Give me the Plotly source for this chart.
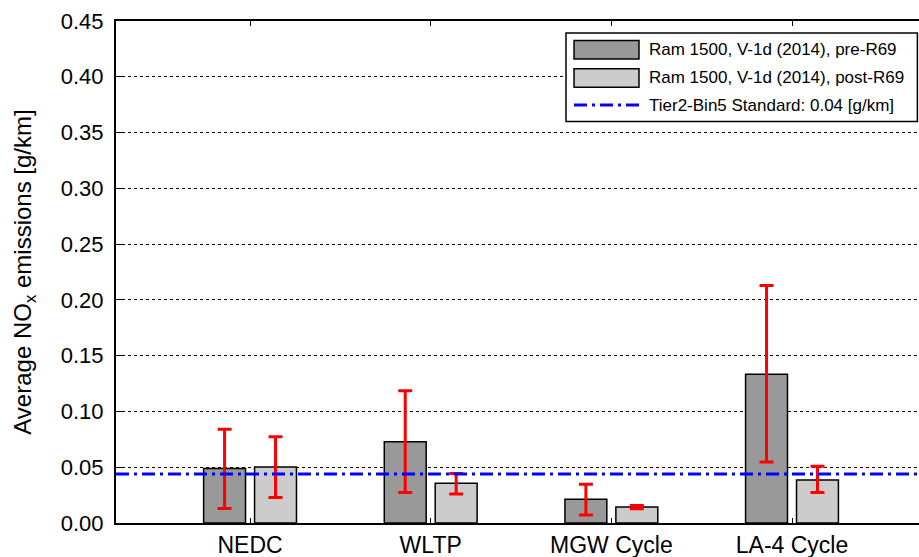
import plotly.graph_objects as go

# Drive cycles on the x axis
cycles = ["NEDC", "WLTP", "MGW Cycle", "LA-4 Cycle"]

# Average NOx [g/km] before the R69 recall fix, with min/max range
pre_mean = [0.0488, 0.0729, 0.0214, 0.1334]
pre_low = [0.0130, 0.0273, 0.0071, 0.0547]
pre_high = [0.0840, 0.1185, 0.0348, 0.2130]

# Average NOx [g/km] after the R69 recall fix, with min/max range
post_mean = [0.0503, 0.0356, 0.0143, 0.0386]
post_low = [0.0229, 0.0259, 0.0127, 0.0273]
post_high = [0.0773, 0.0444, 0.0157, 0.0508]

# Tier2-Bin5 limit (0.07 g/mi expressed in g/km)
standard = 0.044

series_names = [
    "Ram 1500, V-1d (2014), pre-R69",
    "Ram 1500, V-1d (2014), post-R69",
    "Tier2-Bin5 Standard: 0.04 [g/km]",
]

y_ticks = [0.00, 0.05, 0.10, 0.15, 0.20, 0.25, 0.30, 0.35, 0.40, 0.45]

FONT = "Liberation Sans, Arial, Helvetica, sans-serif"
PRE_COLOR = "#999999"
POST_COLOR = "#cccccc"
ERR_COLOR = "#ff0000"
STD_COLOR = "#0000ff"
STD_DASH = "13px,5px,3px,5px"

xpos = list(range(1, len(cycles) + 1))
bar_w = 0.232


def err(mean, low, high):
    return dict(
        type="data",
        symmetric=False,
        array=[h - m for m, h in zip(mean, high)],
        arrayminus=[m - l for m, l in zip(mean, low)],
        color=ERR_COLOR,
        thickness=3,
        width=7,
    )


fig = go.Figure()
fig.add_trace(go.Bar(
    x=xpos, y=pre_mean, name=series_names[0],
    width=bar_w, offset=-0.025 - bar_w,
    marker=dict(color=PRE_COLOR, line=dict(color="black", width=1.5)),
    error_y=err(pre_mean, pre_low, pre_high),
    showlegend=False,
))
fig.add_trace(go.Bar(
    x=xpos, y=post_mean, name=series_names[1],
    width=bar_w, offset=0.025,
    marker=dict(color=POST_COLOR, line=dict(color="black", width=1.5)),
    error_y=err(post_mean, post_low, post_high),
    showlegend=False,
))

# Standard limit line across the full width
fig.add_shape(type="line", xref="paper", yref="y", x0=0, x1=1,
              y0=standard, y1=standard, layer="above",
              line=dict(color=STD_COLOR, width=3, dash=STD_DASH))

# Boxed legend in the upper right corner (paper coordinates)
L, R, T, B = 0.5604, 0.998, 0.976, 0.8
fig.add_shape(type="rect", xref="paper", yref="paper", x0=L, x1=R, y0=B, y1=T,
              fillcolor="white", line=dict(color="black", width=1.5), layer="above")
rows = [0.9426, 0.8865, 0.8325]
sw_x0, sw_x1 = 0.5704, 0.6513
sw_h = 0.0185
for yc, col in zip(rows[:2], [PRE_COLOR, POST_COLOR]):
    fig.add_shape(type="rect", xref="paper", yref="paper",
                  x0=sw_x0, x1=sw_x1, y0=yc - sw_h, y1=yc + sw_h,
                  fillcolor=col, line=dict(color="black", width=1.5), layer="above")
fig.add_shape(type="line", xref="paper", yref="paper",
              x0=sw_x0, x1=sw_x1, y0=rows[2], y1=rows[2], layer="above",
              line=dict(color=STD_COLOR, width=3, dash=STD_DASH))
for yc, txt in zip(rows, series_names):
    fig.add_annotation(xref="paper", yref="paper", x=0.6613, y=yc,
                       text=txt, showarrow=False, xanchor="left", yanchor="middle",
                       font=dict(family=FONT, size=17, color="black"))

fig.update_layout(
    width=919, height=557,
    margin=dict(l=116, r=0, t=21, b=34),
    plot_bgcolor="white", paper_bgcolor="white",
    font=dict(family=FONT, color="black"),
    showlegend=False,
    xaxis=dict(
        range=[0.258, 4.703],
        tickvals=xpos, ticktext=cycles,
        ticks="inside", ticklen=5, tickwidth=1, tickcolor="black",
        showline=True, linecolor="black", linewidth=2, mirror="ticks",
        showgrid=False, zeroline=False,
        tickfont=dict(family=FONT, size=23, color="black"),
    ),
    yaxis=dict(
        range=[0, 0.45],
        tickvals=y_ticks, ticktext=[f"{v:.2f}" for v in y_ticks],
        ticks="inside", ticklen=6, tickwidth=1, tickcolor="black",
        showline=True, linecolor="black", linewidth=2, mirror=False,
        showgrid=True, gridcolor="black", gridwidth=1, griddash="dot",
        zeroline=False,
        ticklabelstandoff=6,
        tickfont=dict(family=FONT, size=22, color="black"),
        title=dict(text="Average NO<sub>x</sub> emissions [g/km]",
                   font=dict(family=FONT, size=24, color="black"), standoff=22),
    ),
)

fig.write_html("out.html")
